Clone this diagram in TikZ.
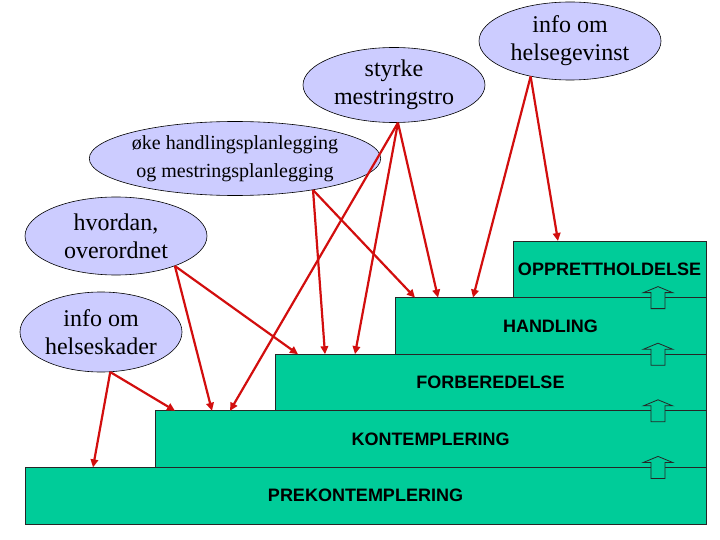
\documentclass[tikz,border=0pt]{standalone}
\usepackage{fontspec}
\usepackage{tikz}
\usetikzlibrary{shapes.geometric,arrows.meta}
\newfontfamily\bubblefont{Liberation Serif}
\newfontfamily\stepfont{Liberation Sans}
\definecolor{lavender}{RGB}{204,204,255}
\definecolor{stepgreen}{RGB}{0,204,153}
\definecolor{linkred}{RGB}{210,14,14}
\tikzstyle{bubble} = [draw=black, line width=0.6pt, fill=lavender, ellipse, inner sep=0pt, align=center, font={\bubblefont\fontsize{24}{28}\selectfont}]
\tikzstyle{stepbox} = [draw=black!85, line width=0.8pt, fill=stepgreen, anchor=north west, minimum height=56.6pt, inner sep=0pt, outer sep=0pt, font={\stepfont\bfseries\fontsize{18}{20}\selectfont}]
\tikzstyle{link} = [draw=linkred, line width=2.2pt, -{Triangle[length=8pt,width=7.5pt]}]
\tikzstyle{uparrow} = [draw=black!85, fill=stepgreen, line width=0.8pt]

\begin{document}
\begin{tikzpicture}[x=1pt,y=-1pt]
    \useasboundingbox (0,0) rectangle (720,540);
    \node[stepbox,minimum width=681pt](prek) at (25,467.4){PREKONTEMPLERING};
    \node[stepbox,minimum width=551pt](kont) at (155,410.8){KONTEMPLERING};
    \node[stepbox,minimum width=431pt](forb) at (275,354.2){FORBEREDELSE};
    \node[stepbox,minimum width=311pt](hand) at (395,297.6){HANDLING};
    \node[stepbox,minimum width=193pt](opp) at (513,241){OPPRETTHOLDELSE};
    \foreach \y in {297.6,354.2,410.8,467.4}
      \draw[uparrow] (658,\y-11) -- (672.5,\y-5) -- (665,\y-5) -- (665,\y+11)
        -- (651,\y+11) -- (651,\y-5) -- (643.5,\y-5) -- cycle;
    \node[bubble,minimum width=182pt,minimum height=78pt](gevinst) at (570,41){info om\\helsegevinst};
    \node[bubble,minimum width=182pt,minimum height=75pt](styrke) at (394,85){styrke\\mestringstro};
    \node[bubble,minimum width=262pt,minimum height=74pt,font={\bubblefont\fontsize{20}{28}\selectfont}](oke) at (235,158.5){øke handlingsplanlegging\\og mestringsplanlegging};
    \node[bubble,minimum width=182pt,minimum height=78pt](hvordan) at (116,236){hvordan,\\overordnet};
    \node[bubble,minimum width=162pt,minimum height=80pt](skader) at (101,332){info om\\helseskader};
    \draw[link](gevinst.222)--([xshift=45pt]opp.north west);
    \draw[link](gevinst.222)--([xshift=78pt]hand.north west);
    \draw[link](styrke.276)--([xshift=43pt]hand.north west);
    \draw[link](styrke.276)--([xshift=80pt]forb.north west);
    \draw[link](styrke.276)--([xshift=75pt]kont.north west);
    \draw[link](oke.338)--([xshift=20pt]hand.north west);
    \draw[link](oke.338)--([xshift=50pt]forb.north west);
    \draw[link](hvordan.333)--([xshift=23pt]forb.north west);
    \draw[link](hvordan.333)--([xshift=57pt]kont.north west);
    \draw[link](skader.283)--([xshift=20pt]kont.north west);
    \draw[link](skader.283)--([xshift=68pt]prek.north west);
  \end{tikzpicture}
\end{document}
